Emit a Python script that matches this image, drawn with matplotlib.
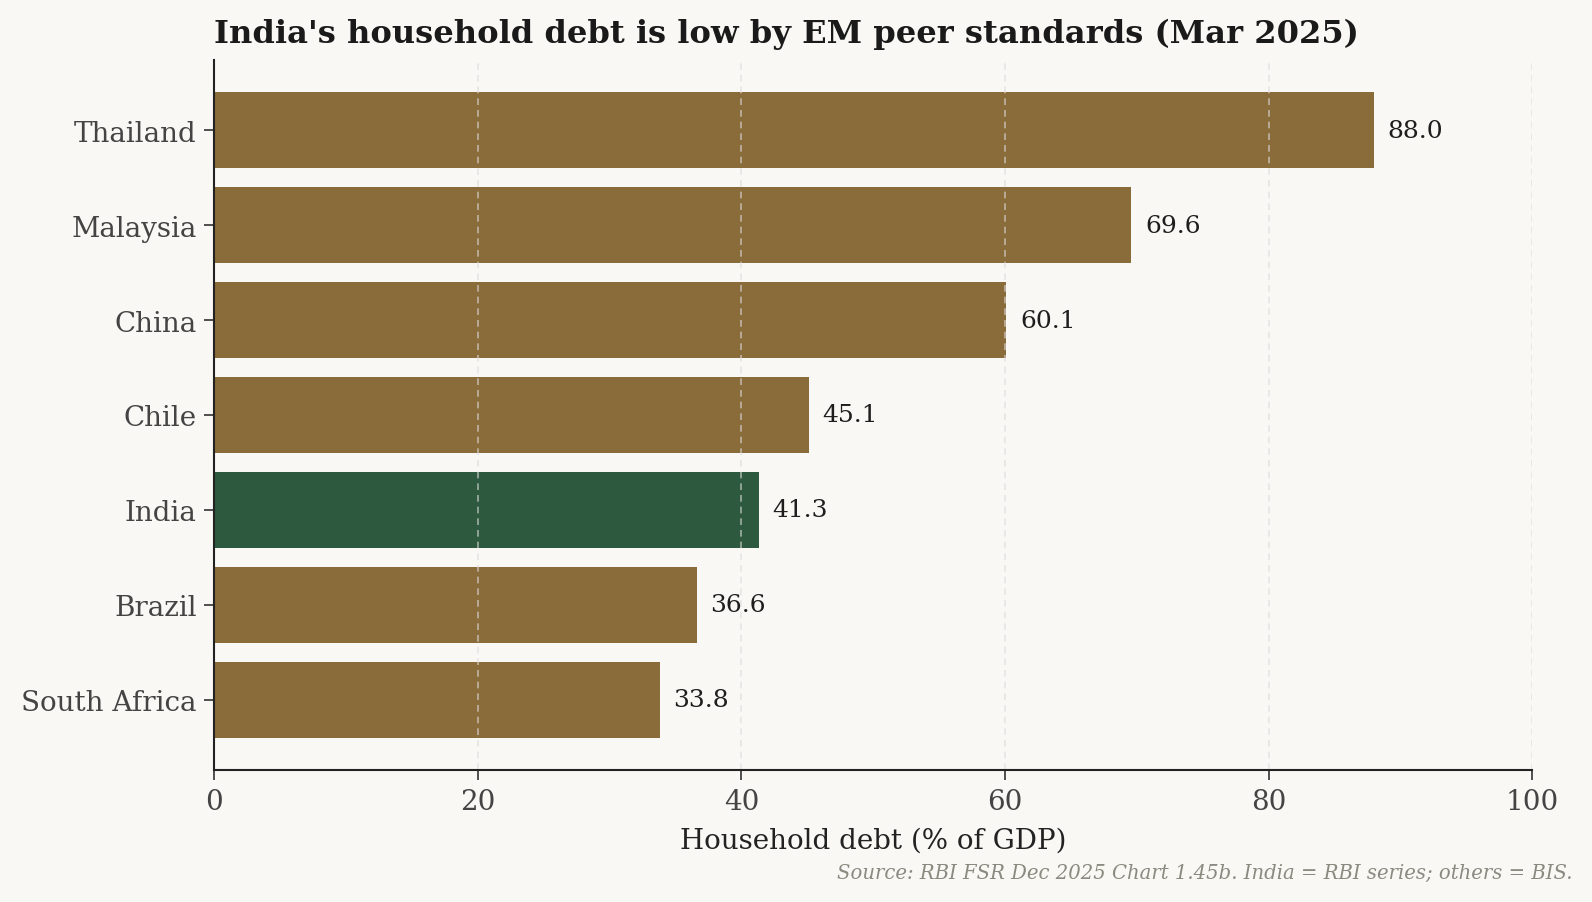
import matplotlib
matplotlib.use("Agg")
import matplotlib.pyplot as plt

countries = ["South Africa", "Brazil", "India", "Chile", "China", "Malaysia", "Thailand"]
debt = [33.8, 36.6, 41.3, 45.1, 60.1, 69.6, 88.0]
highlight = "India"
xticks = [0, 20, 40, 60, 80, 100]

BG = "#f9f8f4"
BROWN = "#8a6c3b"
GREEN = "#2d5a3e"

plt.rcParams["font.family"] = ["DejaVu Serif"]

W, H = 1568, 888
fig = plt.figure(figsize=(10.62, 6.02), dpi=150, facecolor=BG)
ax = fig.add_axes([211/W, 1-758/H, (1508-211)/W, (758-60)/H])
ax.set_facecolor(BG)

colors = [GREEN if c == highlight else BROWN for c in countries]
bars = ax.barh(countries, debt, height=0.8, color=colors, zorder=2)

for b, v in zip(bars, debt):
    ax.text(v + 1.05, b.get_y() + b.get_height()/2, f"{v:.1f}", va="center", ha="left",
            fontsize=12, color="#1e1e1e")

ax.set_xlim(0, 100)
ax.set_xticks(xticks)
ax.grid(axis="x", color="#dcdcdc", alpha=0.65, linestyle=(0, (4, 3)), linewidth=0.8, zorder=3)
ax.set_axisbelow(False)
for s in ["top", "right"]:
    ax.spines[s].set_visible(False)
for s in ["left", "bottom"]:
    ax.spines[s].set_color("#222222")
    ax.spines[s].set_linewidth(1.0)
    ax.spines[s].set_zorder(4)
ax.tick_params(axis="both", labelsize=13.3, labelcolor="#444444", color="#333333", length=5)
ax.set_xlabel("Household debt (% of GDP)", fontsize=13.3, color="#222222", labelpad=6)

ax.set_title("India's household debt is low by EM peer standards (Mar 2025)",
             loc="left", fontsize=15.4, fontweight="bold", color="#1a1a1a", pad=8.5)

fig.text(1548/W, 1-859/H, "Source: RBI FSR Dec 2025 Chart 1.45b. India = RBI series; others = BIS.",
         ha="right", va="center", fontsize=9.4, style="italic", color="#8a8a80")

fig.savefig("out.png", dpi=150, facecolor=BG)
